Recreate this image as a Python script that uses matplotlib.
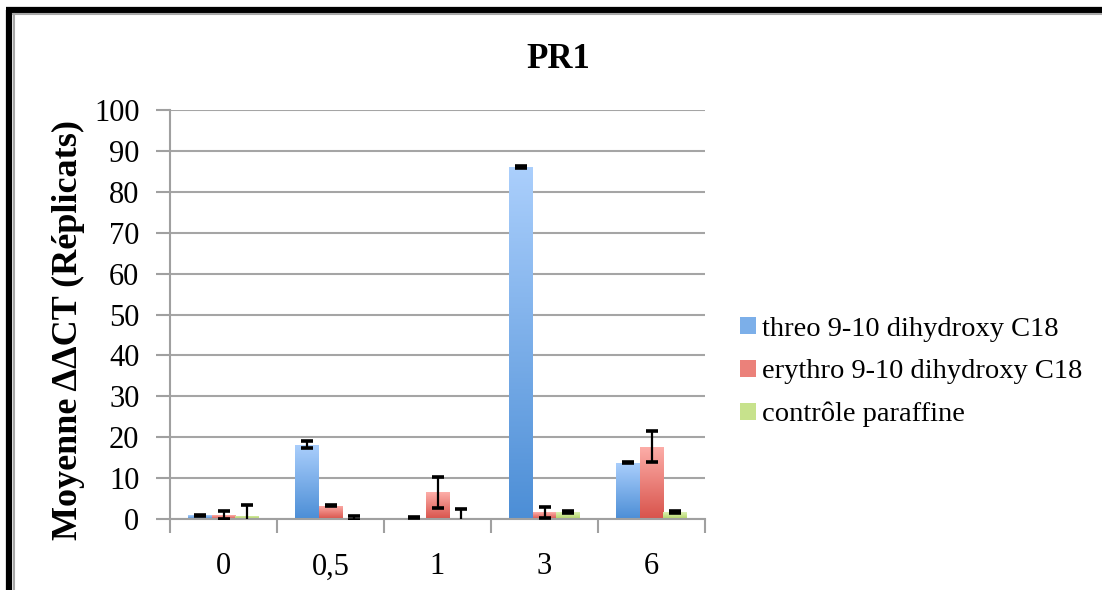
import numpy as np
import matplotlib
matplotlib.use("Agg")
import matplotlib.pyplot as plt
from matplotlib.lines import Line2D
from matplotlib.patches import Patch
from matplotlib.colors import LinearSegmentedColormap

plt.rcParams['font.family'] = ['Liberation Serif', 'DejaVu Serif']

# data
categories = ['0', '0,5', '1', '3', '6']
series_names = ['threo 9-10 dihydroxy C18',
                'erythro 9-10 dihydroxy C18',
                'contrôle paraffine']
threo = [0.9, 18.2, 0.3, 86.0, 13.8]
threo_err = [0.1, 0.8, 0.1, 0.2, 0.1]
erythro = [0.9, 3.3, 6.5, 1.6, 17.7]
erythro_err = [1.0, 0.15, 3.8, 1.3, 3.7]
paraffine = [0.8, 0.35, 0.3, 1.7, 1.7]
paraffine_err = [2.6, 0.5, 2.1, 0.2, 0.2]

values = [threo, erythro, paraffine]
errors = [threo_err, erythro_err, paraffine_err]
# (top colour, bottom colour) of each gradient
grad = [('#abcffc', '#4c8ed6'),
        ('#fdaea9', '#d8534b'),
        ('#dcf0b2', '#b2d466')]

fig = plt.figure(figsize=(11.02, 5.9), dpi=100)
ax = fig.add_axes([170 / 1102, 1 - 519 / 590, 535 / 1102, 409 / 590])

x = np.arange(len(categories))
width = 0.222
ramp = np.linspace(0, 1, 256).reshape(-1, 1)

cmaps = []
for i in range(3):
    pos = x + (i - 1) * width
    bars = ax.bar(pos, values[i], width, color=grad[i][1], linewidth=0,
                  zorder=2)
    cmap = LinearSegmentedColormap.from_list('g%d' % i,
                                             [grad[i][1], grad[i][0]])
    cmaps.append(cmap)
    for b in bars:
        x0, y0 = b.get_x(), b.get_y()
        im = ax.imshow(ramp, cmap=cmap, origin='lower', aspect='auto',
                       extent=[x0, x0 + b.get_width(), y0, y0 + b.get_height()],
                       zorder=2.5)
        im.set_clip_path(b)
    ax.errorbar(pos, values[i], yerr=errors[i], fmt='none', ecolor='black',
                elinewidth=1.6, capsize=4.5, capthick=2.6, zorder=4)

ax.set_xlim(-0.5, 4.5)
ax.set_ylim(0, 100)
ax.set_yticks(np.arange(0, 101, 10))
ax.set_xticks(x)
ax.set_xticklabels(categories)
ax.set_xticks(np.arange(-0.5, 5, 1), minor=True)
ax.tick_params(axis='x', which='major', length=0, pad=24, labelsize=22)
ax.tick_params(axis='x', which='minor', length=10, width=1.5,
               color='#a0a0a0', direction='out')
ax.tick_params(axis='y', length=10, width=1.5, color='#a0a0a0',
               direction='out', pad=12, labelsize=22)
ax.grid(True, axis='y', color='#a5a5a5', linewidth=1.5, zorder=0)
ax.set_axisbelow(True)
for s in ['top', 'right']:
    ax.spines[s].set_visible(False)
for s in ['left', 'bottom']:
    ax.spines[s].set_color('#a0a0a0')
    ax.spines[s].set_linewidth(1.5)

fig.text(558 / 1102, 1 - 60 / 590, 'PR1', fontsize=25, fontweight='bold',
         ha='center', va='center')
fig.text(68 / 1102, 1 - 330 / 590, 'Moyenne ΔΔCT (Réplicats)', fontsize=26,
         fontweight='bold', rotation=90, ha='center', va='center')

handles = [Patch(facecolor=c(0.5), edgecolor='none') for c in cmaps]
leg = fig.legend(handles, series_names, loc='center left',
                 bbox_to_anchor=(740 / 1102, 1 - 372 / 590), frameon=False,
                 fontsize=20.5, handlelength=0.55, handleheight=0.55,
                 handletextpad=0.22, labelspacing=0.62, borderpad=0,
                 borderaxespad=0)

# outer frame (top and left edges visible)
fig.add_artist(Line2D([8.5 / 1102, 8.5 / 1102], [-0.1, 1 - 9.5 / 590],
                      transform=fig.transFigure, color='black', linewidth=4.5,
                      solid_capstyle='butt'))
fig.add_artist(Line2D([6 / 1102, 1.1], [1 - 9.5 / 590, 1 - 9.5 / 590],
                      transform=fig.transFigure, color='black', linewidth=4.5,
                      solid_capstyle='butt'))
fig.add_artist(Line2D([13.5 / 1102, 13.5 / 1102], [-0.1, 1 - 14 / 590],
                      transform=fig.transFigure, color='#a8a8a8', linewidth=1.5))
fig.add_artist(Line2D([13 / 1102, 1.1], [1 - 14 / 590, 1 - 14 / 590],
                      transform=fig.transFigure, color='#a8a8a8', linewidth=1.5))

fig.savefig('out.png', dpi=100)
